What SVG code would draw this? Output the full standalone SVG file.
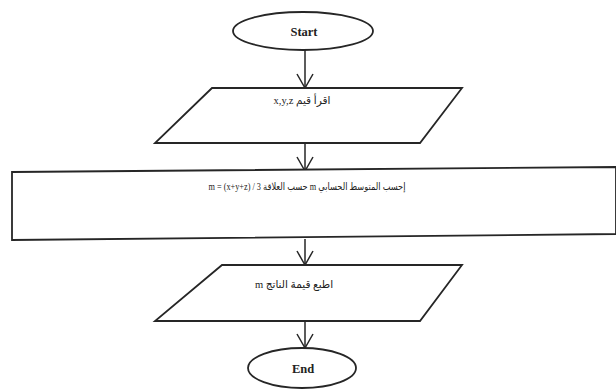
<svg xmlns="http://www.w3.org/2000/svg" width="616" height="391" viewBox="0 0 616 391">
<defs>
<style>
.shape{fill:#fff;stroke:#262626;stroke-width:1.8}
.conn{fill:none;stroke:#262626;stroke-width:1.5}
.lat{font-family:"Liberation Serif","Times New Roman",serif;font-weight:bold;font-size:12.5px;fill:#222;text-anchor:middle}
.ar{font-family:"Liberation Serif","DejaVu Sans","Noto Sans",serif;fill:#222;text-anchor:middle;direction:rtl;unicode-bidi:embed}
</style>
<marker id="v" viewBox="0 0 16 18" refX="15" refY="9" markerWidth="16" markerHeight="18" markerUnits="userSpaceOnUse" orient="auto">
<path d="M1,1 L15,9 L1,17" fill="none" stroke="#262626" stroke-width="1.5"/>
</marker>
</defs>
<rect width="616" height="391" fill="#fff"/>
<g id="connectors">
<line class="conn" x1="305" y1="50" x2="305" y2="88" marker-end="url(#v)"/>
<line class="conn" x1="305" y1="143" x2="305" y2="171" marker-end="url(#v)"/>
<line class="conn" x1="305" y1="239" x2="305" y2="265" marker-end="url(#v)"/>
<line class="conn" x1="305" y1="321" x2="305" y2="348" marker-end="url(#v)"/>
</g>
<g id="start">
<ellipse class="shape" cx="303" cy="31" rx="70" ry="19"/>
<text class="lat" x="304" y="36">Start</text>
</g>
<g id="read">
<polygon class="shape" points="212,88 462,88 420,143 155,143"/>
<text class="ar" x="302" y="104" font-size="10.5">اقرأ قيم x,y,z</text>
</g>
<g id="compute">
<polygon class="shape" points="12,172 616,167 616,234 12,240"/>
<text class="ar" x="307" y="190" font-size="10" textLength="197" lengthAdjust="spacingAndGlyphs">إحسب المتوسط الحسابي m حسب العلاقة m = (x+y+z) / 3</text>
</g>
<g id="print">
<polygon class="shape" points="222,265 462,265 420,321 155,321"/>
<text class="ar" x="294" y="288" font-size="10.5">اطبع قيمة الناتج m</text>
</g>
<g id="end">
<ellipse class="shape" cx="302" cy="368" rx="54" ry="20"/>
<text class="lat" x="303" y="373">End</text>
</g>
</svg>
